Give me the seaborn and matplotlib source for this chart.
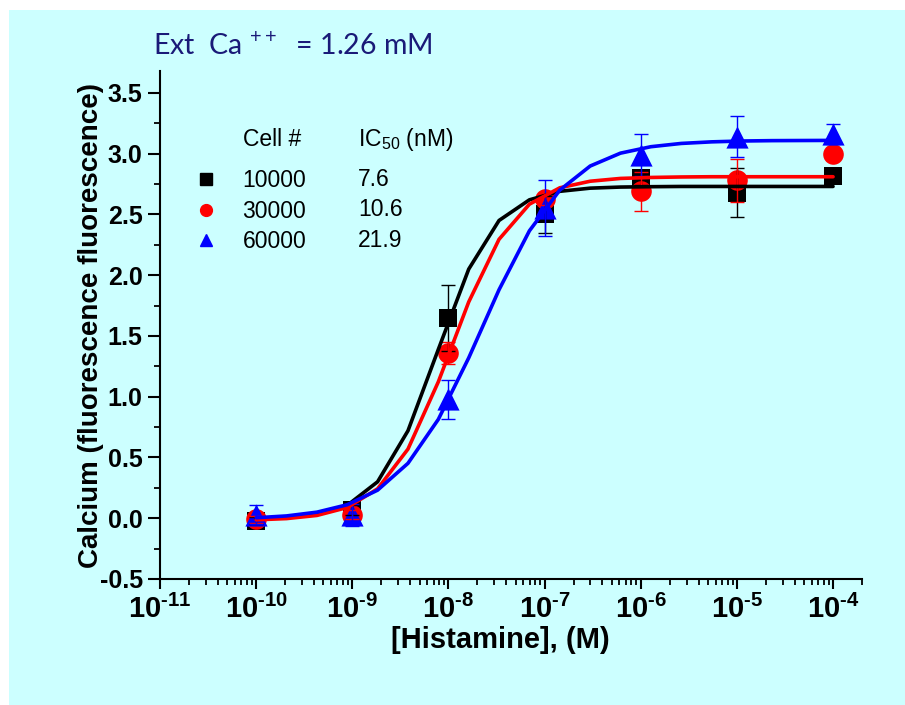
import matplotlib
matplotlib.use("Agg")
import matplotlib.pyplot as plt
from matplotlib.lines import Line2D
from matplotlib.patches import Rectangle
from matplotlib.ticker import FixedLocator, LogLocator, FuncFormatter, MultipleLocator
import numpy as np
import pandas as pd
import seaborn as sns

# measured points (mean +/- error) at each histamine concentration
conc = [1e-10, 1e-9, 1e-8, 1e-7, 1e-6, 1e-5, 1e-4]
cells = ['10000', '30000', '60000']
ic50 = ['7.6', '10.6', '21.9']
resp_10000 = [-0.02, 0.07, 1.65, 2.50, 2.80, 2.68, 2.82]
err_10000 = [0.03, 0.04, 0.27, 0.15, 0.06, 0.20, 0.04]
resp_30000 = [-0.01, 0.03, 1.36, 2.63, 2.69, 2.78, 3.00]
err_30000 = [0.03, 0.04, 0.09, 0.05, 0.16, 0.18, 0.05]
resp_60000 = [0.03, 0.03, 0.98, 2.55, 2.99, 3.14, 3.16]
err_60000 = [0.08, 0.09, 0.16, 0.23, 0.17, 0.17, 0.08]

# fitted curves at their plotted vertices
log_fit = [-10.0, -9.684, -9.368, -9.053, -8.737, -8.421, -8.105, -7.789, -7.474, -7.158,
           -6.842, -6.526, -6.211, -5.895, -5.579, -5.263, -4.947, -4.632, -4.316, -4.0]
fit_10000 = [-0.005, 0.005, 0.032, 0.106, 0.30, 0.72, 1.39, 2.05, 2.45, 2.62,
             2.69, 2.716, 2.725, 2.728, 2.73, 2.73, 2.73, 2.73, 2.73, 2.73]
fit_30000 = [-0.013, -0.003, 0.023, 0.088, 0.242, 0.569, 1.123, 1.78, 2.295, 2.584,
             2.719, 2.773, 2.796, 2.804, 2.808, 2.81, 2.81, 2.81, 2.81, 2.81]
fit_60000 = [0.004, 0.019, 0.05, 0.111, 0.231, 0.452, 0.814, 1.32, 1.88, 2.365,
             2.70, 2.898, 3.004, 3.057, 3.084, 3.097, 3.104, 3.107, 3.108, 3.109]

colors = {'10000': '#000000', '30000': '#FF0000', '60000': '#0000FF'}
markers = {'10000': 's', '30000': 'o', '60000': '^'}
msize = {'10000': 185, '30000': 220, '60000': 255}
x_exponents = [-11, -10, -9, -8, -7, -6, -5, -4]

pts = pd.DataFrame({
    'conc': conc * 3,
    'resp': resp_10000 + resp_30000 + resp_60000,
    'err': err_10000 + err_30000 + err_60000,
    'cells': [c for c in cells for _ in conc],
})
fit = pd.DataFrame({
    'conc': [10.0 ** v for v in log_fit] * 3,
    'resp': fit_10000 + fit_30000 + fit_60000,
    'cells': [c for c in cells for _ in log_fit],
})

sns.set_theme(style='ticks')
plt.rcParams['font.family'] = ['Liberation Sans', 'DejaVu Sans']
plt.rcParams['text.color'] = 'black'
plt.rcParams['axes.labelcolor'] = 'black'
plt.rcParams['mathtext.fontset'] = 'custom'
plt.rcParams['mathtext.rm'] = 'Liberation Sans:bold'
plt.rcParams['mathtext.bf'] = 'Liberation Sans:bold'
plt.rcParams['mathtext.sf'] = 'Liberation Sans'

cyan = '#CCFFFF'
fig = plt.figure(figsize=(9.05, 7.05), dpi=100, facecolor='white')
fig.patches.append(Rectangle((9 / 905, 0), 1, 1 - 10 / 705, transform=fig.transFigure,
                             facecolor=cyan, edgecolor='none', zorder=-10))
ax = fig.add_axes([160 / 905, 126 / 705, 702 / 905, 508 / 705])
ax.set_facecolor('none')
ax.set_xscale('log')

for c in cells:
    sub = pts[pts['cells'] == c]
    sns.scatterplot(data=sub, x='conc', y='resp', marker=markers[c], s=msize[c],
                    color=colors[c], linewidth=0, ax=ax, zorder=3, legend=False)
for c in cells:
    sub = pts[pts['cells'] == c]
    ax.errorbar(sub['conc'], sub['resp'], yerr=sub['err'], fmt='none', ecolor=colors[c],
                elinewidth=1.0, capsize=5, capthick=1.0, zorder=4)
sns.lineplot(data=fit, x='conc', y='resp', hue='cells', palette=colors, linewidth=2.6,
             legend=False, ax=ax, zorder=5, sort=False)

ax.set_xlim(1e-11, 2e-4)
ax.set_ylim(-0.5, 3.68)
ax.xaxis.set_major_locator(FixedLocator([10.0 ** e for e in x_exponents]))
ax.xaxis.set_minor_locator(LogLocator(base=10, subs=np.arange(2, 10), numticks=20))
ax.xaxis.set_major_formatter(FuncFormatter(lambda v, p: r'$\mathbf{10}^{\text{%d}}$' % round(np.log10(v))))
ax.yaxis.set_major_locator(MultipleLocator(0.5))
ax.yaxis.set_minor_locator(MultipleLocator(0.25))
ax.yaxis.set_major_formatter(FuncFormatter(lambda v, p: '%.1f' % v))

for s in ['top', 'right']:
    ax.spines[s].set_visible(False)
for s in ['left', 'bottom']:
    ax.spines[s].set_linewidth(1.5)
    ax.spines[s].set_color('black')
ax.tick_params(axis='x', which='major', length=7.5, width=1.5, pad=4, labelsize=21, colors='black')
ax.tick_params(axis='x', which='minor', length=4, width=1.3, colors='black')
ax.tick_params(axis='y', which='major', length=9, width=1.5, pad=3.5, labelsize=18, colors='black')
ax.tick_params(axis='y', which='minor', length=4.5, width=1.3, colors='black')
for lab in ax.get_yticklabels():
    lab.set_fontweight('bold')

ax.set_xlabel('[Histamine], (M)', fontsize=21, fontweight='bold')
ax.xaxis.set_label_coords((500 - 160) / 702, -0.093)
ax.set_ylabel('Calcium (fluorescence fluorescence)', fontsize=20, fontweight='bold', labelpad=-3)

# legend block
fs = 16.5
handles = [Line2D([], [], marker=markers[c], color=colors[c], linestyle='none', markersize=8.5)
           for c in cells]
ax.legend(handles, cells, loc='upper left', bbox_to_anchor=(0.049, 0.807), frameon=False,
          borderpad=0, borderaxespad=0, handlelength=1.0, handletextpad=1.1,
          labelspacing=0.33, prop={'family': 'Liberation Sans', 'size': fs})
ax.text(0.118, 0.866, 'Cell #', transform=ax.transAxes, fontsize=fs, va='center', ha='left')
ax.text(0.282, 0.866, r'IC$_{\mathsf{50}}$ (nM)', transform=ax.transAxes, fontsize=fs,
        va='center', ha='left')
row_y = [0.787, 0.728, 0.667]
for v, yy in zip(ic50, row_y):
    ax.text(0.282, yy, v, transform=ax.transAxes, fontsize=fs, va='center', ha='left')

fig.text(153 / 905, 1 - 45 / 705, r'Ext  Ca $^{\mathsf{++}}$  = 1.26 mM', fontsize=20.5,
         color='#1A1A78', family=['Lato', 'DejaVu Sans'], va='center', ha='left')

fig.savefig('out.png', dpi=100, facecolor=fig.get_facecolor())
